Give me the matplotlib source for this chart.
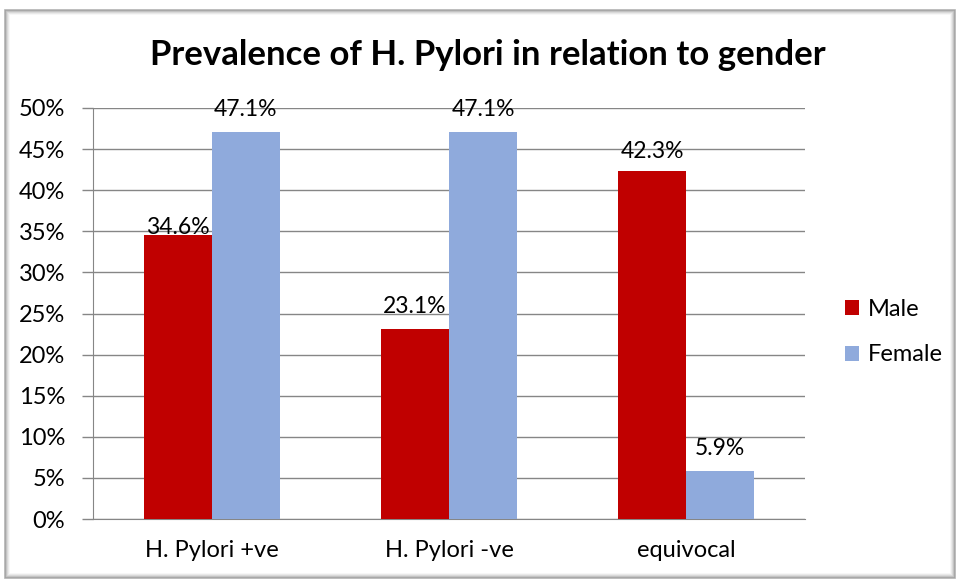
import matplotlib
matplotlib.use("Agg")
import matplotlib.pyplot as plt
import numpy as np
from matplotlib.patches import Rectangle

categories = ["H. Pylori +ve", "H. Pylori -ve", "equivocal"]
male = [34.6, 23.1, 42.3]
female = [47.1, 47.1, 5.9]
series_names = ["Male", "Female"]
yticks = [0, 5, 10, 15, 20, 25, 30, 35, 40, 45, 50]

plt.rcParams['font.family'] = ['Lato', 'DejaVu Sans']

fig = plt.figure(figsize=(9.6, 5.81), dpi=100)
fig.patch.set_facecolor('white')

# frame with soft shadow
W, H = 960, 581
def fx(px): return px / W
def fy(py): return 1 - py / H
for i, a in enumerate([0.55, 0.35, 0.22, 0.12, 0.06]):
    fig.add_artist(Rectangle((fx(5 + i), fy(578 - i)), fx(950 - 2 * i), (568 - 2 * i) / H,
                             transform=fig.transFigure, fill=False,
                             edgecolor=(0.45, 0.45, 0.45, a), linewidth=1.2, zorder=0))

ax = fig.add_axes([fx(93), fy(519), fx(805 - 93), (519 - 108) / H])
x = np.arange(len(categories))
w = 0.287
b1 = ax.bar(x - w / 2, male, width=w, color='#C00000', label=series_names[0], zorder=3)
b2 = ax.bar(x + w / 2, female, width=w, color='#8FAADC', label=series_names[1], zorder=3)

ax.set_xlim(-0.5, 2.5)
ax.set_ylim(0, 50)
ax.set_yticks(yticks)
ax.set_yticklabels([f"{t}%" for t in yticks], fontsize=17)
ax.set_xticks(x)
ax.set_xticklabels(categories, fontsize=17)
ax.tick_params(axis='x', length=0, pad=15)
ax.tick_params(axis='y', length=8, color='#868686', width=1, pad=12)
ax.yaxis.grid(True, color='#868686', linewidth=1, zorder=0)
for s in ['top', 'right']:
    ax.spines[s].set_visible(False)
ax.spines['left'].set_color('#868686')
ax.spines['bottom'].set_color('#868686')

label_offsets_m = [5, 16, 14]
label_offsets_f = [16, 16, 16]
for bars, vals, offs in [(b1, male, label_offsets_m), (b2, female, label_offsets_f)]:
    for rect, v, o in zip(bars, vals, offs):
        ax.annotate(f"{v:.1f}%", (rect.get_x() + rect.get_width() / 2, v),
                    xytext=(0, o), textcoords='offset points',
                    ha='center', va='center', fontsize=16.5, zorder=5)

fig.text(fx(488), fy(55), "Prevalence of H. Pylori in relation to gender",
         ha='center', va='center', fontsize=25, fontweight='bold')

fig.legend(handles=[b1, b2], labels=series_names, loc='center left',
           bbox_to_anchor=(fx(845), fy(332)), frameon=False, fontsize=17,
           borderpad=0, borderaxespad=0,
           handlelength=0.6, handleheight=0.6, handletextpad=0.35, labelspacing=1.05)

fig.savefig("out.png", dpi=100)
